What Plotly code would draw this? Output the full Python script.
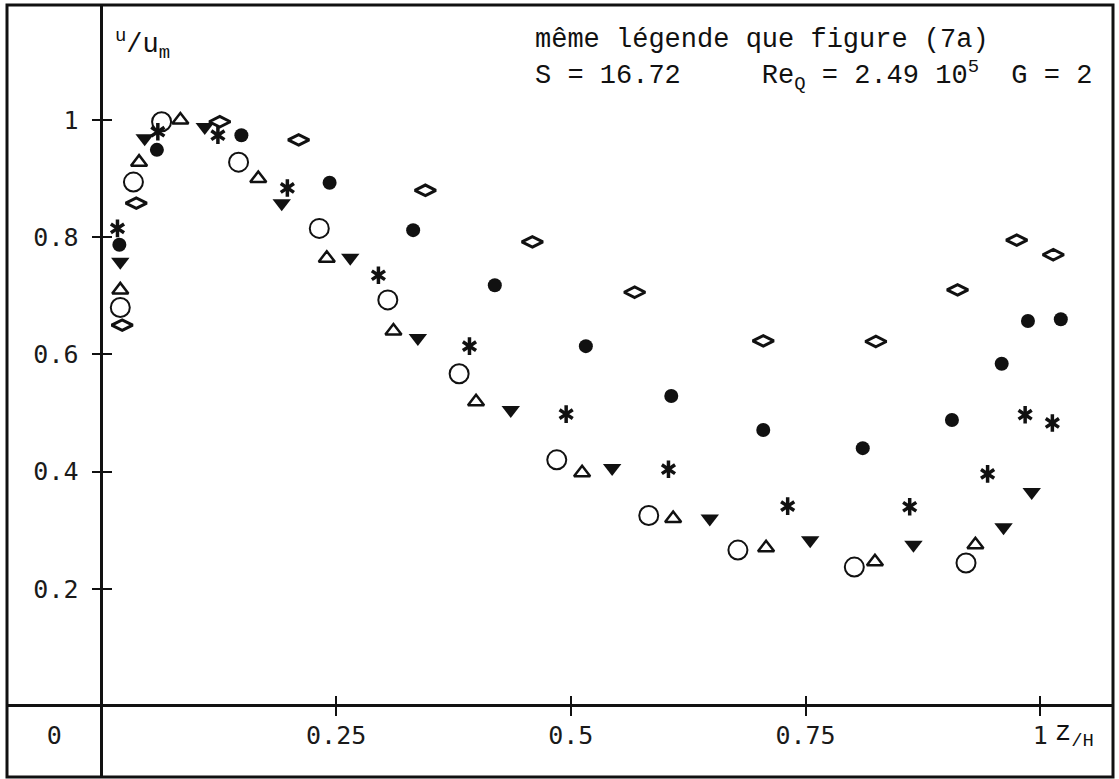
import plotly.graph_objects as go

# Velocity profiles u/u_m versus z/H, one list pair per symbol
z_open_circle = [0.020, 0.034, 0.064, 0.146, 0.232, 0.305, 0.381, 0.485, 0.583, 0.678, 0.802, 0.921]
u_open_circle = [0.680, 0.894, 0.997, 0.928, 0.815, 0.693, 0.567, 0.420, 0.325, 0.266, 0.237, 0.244]

z_open_triangle = [0.020, 0.040, 0.084, 0.167, 0.240, 0.311, 0.399, 0.512, 0.609, 0.708, 0.824, 0.931]
u_open_triangle = [0.710, 0.928, 1.000, 0.900, 0.764, 0.640, 0.519, 0.398, 0.320, 0.270, 0.246, 0.275]

z_filled_triangle = [0.020, 0.046, 0.110, 0.192, 0.265, 0.337, 0.436, 0.544, 0.648, 0.755, 0.865, 0.961, 0.991]
u_filled_triangle = [0.758, 0.969, 0.988, 0.858, 0.765, 0.628, 0.505, 0.406, 0.320, 0.283, 0.275, 0.305, 0.365]

z_asterisk = [0.017, 0.060, 0.124, 0.198, 0.295, 0.392, 0.495, 0.604, 0.731, 0.861, 0.944, 0.984, 1.013]
u_asterisk = [0.815, 0.980, 0.974, 0.884, 0.735, 0.614, 0.498, 0.404, 0.341, 0.340, 0.396, 0.497, 0.483]

z_filled_circle = [0.019, 0.059, 0.149, 0.243, 0.332, 0.419, 0.516, 0.607, 0.705, 0.811, 0.906, 0.959, 0.987, 1.022]
u_filled_circle = [0.787, 0.949, 0.974, 0.893, 0.812, 0.718, 0.614, 0.529, 0.471, 0.440, 0.488, 0.584, 0.657, 0.660]

z_diamond = [0.022, 0.037, 0.126, 0.210, 0.345, 0.459, 0.568, 0.705, 0.825, 0.912, 0.975, 1.014]
u_diamond = [0.650, 0.858, 0.997, 0.966, 0.880, 0.792, 0.706, 0.623, 0.622, 0.710, 0.795, 0.770]

y_ticks = [0.2, 0.4, 0.6, 0.8, 1.0]
y_tick_labels = ["0.2", "0.4", "0.6", "0.8", "1"]
x_ticks = [0.25, 0.5, 0.75, 1.0]
x_tick_labels = ["0", "0.25", "0.5", "0.75", "1"]

W, H = 1119, 779
ML, MR, MT, MB = 7, 6, 5, 2
X_RANGE = [-0.1007, 1.0776]
Y_RANGE = [-0.1212, 1.1962]
x_axis_pos = (0 - Y_RANGE[0]) / (Y_RANGE[1] - Y_RANGE[0])
y_axis_pos = (0 - X_RANGE[0]) / (X_RANGE[1] - X_RANGE[0])
zero_label_x = X_RANGE[0] / 2  # "0" sits in the corner cell left of the vertical axis

INK = "#111111"
MONO = "Liberation Mono"
TICKFONT = dict(family="DejaVu Sans Mono", size=25, color="#1a1a1a")

fig = go.Figure()


def add_points(x, y, symbol, size, line_width=0):
    fig.add_trace(go.Scatter(
        x=x, y=y, mode="markers", showlegend=False, hoverinfo="skip",
        marker=dict(symbol=symbol, size=size, color=INK,
                    line=dict(color=INK, width=line_width)),
    ))


add_points(z_diamond, u_diamond, "diamond-wide-open", 15, 3)
add_points(z_filled_circle, u_filled_circle, "circle", 14)
add_points(z_asterisk, u_asterisk, "y-up-open", 11, 3.5)
add_points(z_asterisk, u_asterisk, "y-down-open", 11, 3.5)
add_points(z_filled_triangle, u_filled_triangle, "triangle-down", 16)
add_points(z_open_triangle, u_open_triangle, "triangle-up-open", 14, 2.5)
add_points(z_open_circle, u_open_circle, "circle-open", 19, 2)

# empty traces so the overlaid tick-only axes get their own subplots
fig.add_trace(go.Scatter(x=[None], y=[None], xaxis="x2", yaxis="y2", showlegend=False, hoverinfo="skip"))
fig.add_trace(go.Scatter(x=[None], y=[None], xaxis="x3", yaxis="y", showlegend=False, hoverinfo="skip"))

common = dict(showgrid=False, fixedrange=True)

fig.update_layout(
    width=W, height=H,
    margin=dict(l=ML, r=MR, t=MT, b=MB, pad=0),
    paper_bgcolor="white", plot_bgcolor="white",
    xaxis=dict(
        range=X_RANGE, anchor="free", position=x_axis_pos,
        showline=False, zeroline=True, zerolinewidth=3, zerolinecolor=INK,
        ticks="", tickvals=[zero_label_x] + x_ticks, ticktext=x_tick_labels,
        tickfont=TICKFONT, ticklabelstandoff=12, **common,
    ),
    xaxis2=dict(
        range=X_RANGE, overlaying="x", anchor="free", position=x_axis_pos,
        showline=False, zeroline=False, ticks="outside", ticklen=9, tickwidth=2,
        tickcolor=INK, tickvals=x_ticks, showticklabels=False, **common,
    ),
    xaxis3=dict(
        range=X_RANGE, overlaying="x", anchor="free", position=x_axis_pos,
        showline=False, zeroline=False, ticks="inside", ticklen=10, tickwidth=2,
        tickcolor=INK, tickvals=x_ticks, showticklabels=False, **common,
    ),
    yaxis=dict(
        range=Y_RANGE, anchor="free", position=y_axis_pos,
        showline=False, zeroline=True, zerolinewidth=3, zerolinecolor=INK,
        ticks="outside", ticklen=10, tickwidth=2, tickcolor=INK,
        tickvals=y_ticks, ticktext=y_tick_labels, tickfont=TICKFONT,
        ticklabelstandoff=8, **common,
    ),
    yaxis2=dict(
        range=Y_RANGE, overlaying="y", anchor="free", position=y_axis_pos,
        showline=False, zeroline=False, ticks="inside", ticklen=9, tickwidth=2,
        tickcolor=INK, tickvals=y_ticks, showticklabels=False, **common,
    ),
    shapes=[dict(type="rect", xref="paper", yref="paper", x0=0, x1=1, y0=0, y1=1,
                 line=dict(color=INK, width=3), layer="above")],
)


def px_to_x(px):
    return X_RANGE[0] + (px - ML) / (W - ML - MR) * (X_RANGE[1] - X_RANGE[0])


def py_to_y(py):
    return Y_RANGE[1] - (py - MT) / (H - MT - MB) * (Y_RANGE[1] - Y_RANGE[0])


# axis names
fig.add_annotation(x=px_to_x(113), y=py_to_y(44), xref="x", yref="y",
                   xanchor="left", yanchor="middle", showarrow=False,
                   text="<sup>u</sup>/u<sub>m</sub>",
                   font=dict(family=MONO, size=27, color=INK))
fig.add_annotation(x=px_to_x(1053), y=py_to_y(735), xref="x", yref="y",
                   xanchor="left", yanchor="middle", showarrow=False,
                   text="z<sub>/H</sub>",
                   font=dict(family=MONO, size=27, color=INK))

# run conditions
fig.add_annotation(x=px_to_x(533), y=py_to_y(40), xref="x", yref="y",
                   xanchor="left", yanchor="middle", showarrow=False,
                   text="même légende que figure (7a)",
                   font=dict(family=MONO, size=27, color=INK))
fig.add_annotation(x=px_to_x(533), y=py_to_y(75), xref="x", yref="y",
                   xanchor="left", yanchor="middle", showarrow=False,
                   text="S = 16.72     Re<sub>Q</sub> = 2.49 10<sup>5</sup>  G = 2",
                   font=dict(family=MONO, size=27, color=INK))

fig.write_html("out.html")
